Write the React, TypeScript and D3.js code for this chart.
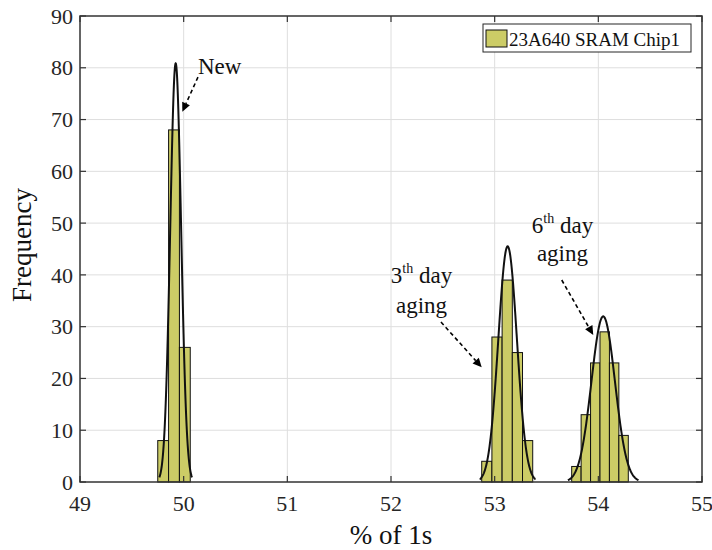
import React from 'react';
import * as d3 from 'd3';

// ---------- data ----------
const xTicks = [49, 50, 51, 52, 53, 54, 55];
const yTicks = [0, 10, 20, 30, 40, 50, 60, 70, 80, 90];

const newCounts = [8, 68, 26];
const day3Counts = [4, 28, 39, 25, 8];
const day6Counts = [3, 13, 23, 29, 23, 9];
const binStarts = [49.75, 52.875, 53.743];
const binWidths = [0.1045, 0.0984, 0.091];

// normal fits (histfit)
const fitMu = [49.923, 53.125, 54.047];
const fitSigma = [0.0526, 0.0897, 0.1135];

const legendLabel = '23A640 SRAM Chip1';
const xLabel = '% of 1s';
const yLabel = 'Frequency';

// annotations in data coordinates
const annNew = { text: 'New', x: 50.138, y: 78.74, from: [50.138, 78.2], to: [49.987, 71.5] };
const ann3 = { num: '3', sup: 'th', rest: ' day', line2: 'aging', x: 52.294, y1: 38.37, y2: 32.7, from: [52.482, 30.9], to: [52.875, 22.15] };
const ann6 = { num: '6', sup: 'th', rest: ' day', line2: 'aging', x: 53.654, y1: 48.15, y2: 42.74, from: [53.647, 39.01], to: [53.951, 28.39] };

// ---------- layout ----------
const W = 712;
const H = 550;
const left = 80;
const right = 702;
const top = 16;
const bottom = 482;
const FONT = "'Liberation Serif', 'Times New Roman', serif";
const AX = '#333333';
const BAR = '#cccc66';

export default function App() {
  const x = d3.scaleLinear().domain([49, 55]).range([left, right]);
  const y = d3.scaleLinear().domain([0, 90]).range([bottom, top]);

  const groups = [newCounts, day3Counts, day6Counts];
  const bars: { x0: number; x1: number; v: number; key: string }[] = [];
  groups.forEach((counts, gi) => {
    counts.forEach((c, i) => {
      const x0 = binStarts[gi] + i * binWidths[gi];
      bars.push({ x0, x1: x0 + binWidths[gi], v: c, key: `${gi}-${i}` });
    });
  });

  const line = d3
    .line<[number, number]>()
    .x((d) => x(d[0]))
    .y((d) => y(d[1]))
    .curve(d3.curveLinear);

  const curves = groups.map((counts, gi) => {
    const n = d3.sum(counts);
    const mu = fitMu[gi];
    const s = fitSigma[gi];
    const scale = (n * binWidths[gi]) / (s * Math.sqrt(2 * Math.PI));
    const pts: [number, number][] = d3
      .range(0, 201)
      .map((k) => {
        const xv = mu - 3 * s + (6 * s * k) / 200;
        return [xv, scale * Math.exp(-0.5 * ((xv - mu) / s) ** 2)];
      });
    return line(pts) as string;
  });

  const arrow = (from: number[], to: number[], key: string) => {
    const x1 = x(from[0]);
    const y1 = y(from[1]);
    const x2 = x(to[0]);
    const y2 = y(to[1]);
    const dx = x2 - x1;
    const dy = y2 - y1;
    const len = Math.sqrt(dx * dx + dy * dy);
    const ux = dx / len;
    const uy = dy / len;
    const hl = 9;
    const hw = 4.2;
    const bx = x2 - ux * hl;
    const by = y2 - uy * hl;
    const p = `${x2},${y2} ${bx - uy * hw},${by + ux * hw} ${bx + uy * hw},${by - ux * hw}`;
    return (
      <g key={key}>
        <line x1={x1} y1={y1} x2={bx} y2={by} stroke="#000" strokeWidth={1.6} strokeDasharray="4,3" />
        <polygon points={p} fill="#000" />
      </g>
    );
  };

  const tick = 6;

  return (
    <svg width={W} height={H} style={{ position: 'absolute', left: 0, top: 0, background: '#fff' }} fontFamily={FONT}>
      <rect x={0} y={0} width={W} height={H} fill="#fff" />
      {/* grid */}
      {xTicks.slice(1, -1).map((t) => (
        <line key={'gx' + t} x1={x(t)} x2={x(t)} y1={top} y2={bottom} stroke="#dedede" strokeWidth={1} />
      ))}
      {yTicks.slice(1, -1).map((t) => (
        <line key={'gy' + t} x1={left} x2={right} y1={y(t)} y2={y(t)} stroke="#dedede" strokeWidth={1} />
      ))}

      {/* bars */}
      {bars.map((b) => (
        <rect
          key={b.key}
          x={x(b.x0)}
          y={y(b.v)}
          width={x(b.x1) - x(b.x0)}
          height={y(0) - y(b.v)}
          fill={BAR}
          stroke="#111"
          strokeWidth={1}
        />
      ))}

      {/* fit curves */}
      {curves.map((d, i) => (
        <path key={'c' + i} d={d} fill="none" stroke="#111" strokeWidth={2} />
      ))}

      {/* frame */}
      <rect x={left} y={top} width={right - left} height={bottom - top} fill="none" stroke={AX} strokeWidth={1.5} />
      {xTicks.map((t) => (
        <g key={'tx' + t}>
          <line x1={x(t)} x2={x(t)} y1={bottom} y2={bottom - tick} stroke={AX} strokeWidth={1.2} />
          <line x1={x(t)} x2={x(t)} y1={top} y2={top + tick} stroke={AX} strokeWidth={1.2} />
          <text x={x(t)} y={511} textAnchor="middle" fontSize={22} fill="#262626">
            {t}
          </text>
        </g>
      ))}
      {yTicks.map((t) => (
        <g key={'ty' + t}>
          <line x1={left} x2={left + tick} y1={y(t)} y2={y(t)} stroke={AX} strokeWidth={1.2} />
          <line x1={right} x2={right - tick} y1={y(t)} y2={y(t)} stroke={AX} strokeWidth={1.2} />
          <text x={left - 7} y={y(t)} dy="0.35em" textAnchor="end" fontSize={22} fill="#262626">
            {t}
          </text>
        </g>
      ))}

      {/* axis labels */}
      <text x={(left + right) / 2} y={544} textAnchor="middle" fontSize={27} fill="#111">
        {xLabel}
      </text>
      <text transform={`translate(31, ${(top + bottom) / 2 - 4}) rotate(-90)`} textAnchor="middle" fontSize={27} fill="#111">
        {yLabel}
      </text>

      {/* legend */}
      <g>
        <rect x={483} y={24} width={208} height={28} fill="#fff" stroke="#262626" strokeWidth={1} />
        <rect x={486} y={30} width={21} height={17} fill={BAR} stroke="#111" strokeWidth={1} />
        <text x={509} y={46} fontSize={19} fill="#111">
          {legendLabel}
        </text>
      </g>

      {/* annotations */}
      <text x={x(annNew.x)} y={y(annNew.y)} fontSize={23} fill="#111">
        {annNew.text}
      </text>
      {arrow(annNew.from, annNew.to, 'aNew')}

      {[ann3, ann6].map((a, i) => (
        <g key={'ann' + i}>
          <text x={x(a.x)} y={y(a.y1)} textAnchor="middle" fontSize={23} fill="#111">
            <tspan>{a.num}</tspan>
            <tspan dy={-10} fontSize={14}>
              {a.sup}
            </tspan>
            <tspan dy={10}>{a.rest}</tspan>
          </text>
          <text x={x(a.x)} y={y(a.y2)} textAnchor="middle" fontSize={23} fill="#111">
            {a.line2}
          </text>
          {arrow(a.from, a.to, 'ar' + i)}
        </g>
      ))}
    </svg>
  );
}
